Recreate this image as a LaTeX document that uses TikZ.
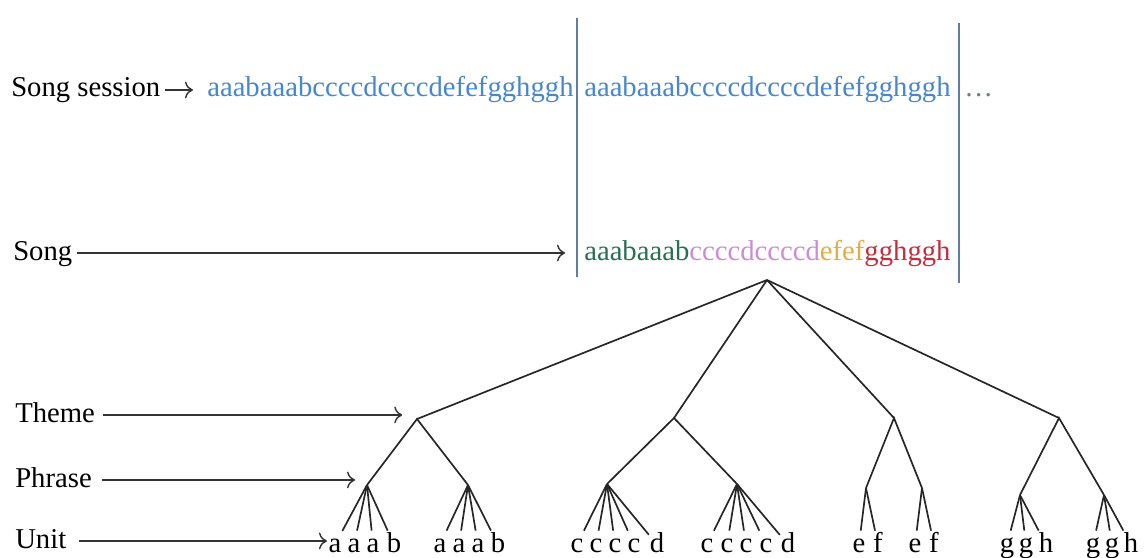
\documentclass[tikz,border=0pt]{standalone}
\usepackage{fontspec}
\setmainfont{Liberation Serif}
\usepackage{tikz}
\usetikzlibrary{arrows.meta}

\definecolor{sessblue}{RGB}{70,135,205}
\definecolor{abgreen}{RGB}{40,112,82}
\definecolor{cdpink}{RGB}{205,140,210}
\definecolor{eforange}{RGB}{228,172,70}
\definecolor{ghred}{RGB}{195,45,60}
\definecolor{barblue}{RGB}{95,125,170}
\definecolor{dotgray}{RGB}{110,120,140}

\begin{document}
\begin{tikzpicture}[x=0.025cm,y=-0.025cm,
	every node/.style={font=\fontsize{20.4}{24}\selectfont},
	lbl/.style={anchor=base west,inner sep=0pt,text height=14pt,text depth=4pt},
	leaf/.style={anchor=base,inner sep=0.5pt,text height=14.5pt,text depth=4pt},
	edge/.style={line width=1.2pt,black!85},
	lvl/.style={-{To[scale=1.5]},line width=1pt,black!80},
	sep/.style={line width=1.1pt,barblue}]
\useasboundingbox (0,0) rectangle (1146,558);

% session line
\node[lbl] (ses) at (11,97) {Song session};
\node[lbl,text=sessblue] (s1) at (207,97) {aaabaaabccccdccccdefefgghggh};
\node[lbl,text=sessblue] (s2) at (584,97) {aaabaaabccccdccccdefefgghggh};
\node[lbl,text=dotgray] (more) at (964,97) {…};
\draw[lvl,shorten <=3pt,shorten >=10pt] (ses.east) -- (ses.east -| s1.west);

% separators
\draw[sep] (577,18) -- (577,277);
\draw[sep] (959,23) -- (959,283);

% one song
\node[lbl] (song) at (13,260) {Song};
\node[lbl] (tune) at (584,260) {\textcolor{abgreen}{aaabaaab}\textcolor{cdpink}{ccccdccccd}\textcolor{eforange}{efef}\textcolor{ghred}{gghggh}};
\draw[lvl,shorten <=3pt,shorten >=13.5pt] (song.east) -- (song.east -| tune.west);

% tree: root, themes, phrases
\coordinate (root) at (767,280);
\coordinate (t1) at (417,419);
\coordinate (t2) at (674,418);
\coordinate (t3) at (894,418);
\coordinate (t4) at (1059,418);
\coordinate (p1) at (367,485);
\coordinate (p2) at (468,485);
\coordinate (p3) at (607,484);
\coordinate (p4) at (737,484);
\coordinate (p5) at (866,488);
\coordinate (p6) at (922,488);
\coordinate (p7) at (1020,495);
\coordinate (p8) at (1104,495);

\foreach \t in {t1,t2,t3,t4}
	\draw[edge] (root) -- (\t);
\draw[edge] (p1) -- (t1) -- (p2);
\draw[edge] (p3) -- (t2) -- (p4);
\draw[edge] (p5) -- (t3) -- (p6);
\draw[edge] (p7) -- (t4) -- (p8);

% units
\foreach \x/\c [count=\i] in {335/a,354/a,373/a,394/b}{
	\node[leaf] (u1-\i) at (\x,552) {\c};
	\draw[edge] (p1) -- (u1-\i);}
\foreach \x/\c [count=\i] in {440/a,459/a,478/a,498/b}{
	\node[leaf] (u2-\i) at (\x,552) {\c};
	\draw[edge] (p2) -- (u2-\i);}
\foreach \x/\c [count=\i] in {577/c,596/c,615/c,634/c,657/d}{
	\node[leaf] (u3-\i) at (\x,552) {\c};
	\draw[edge] (p3) -- (u3-\i);}
\foreach \x/\c [count=\i] in {707/c,727/c,746/c,766/c,788/d}{
	\node[leaf] (u4-\i) at (\x,552) {\c};
	\draw[edge] (p4) -- (u4-\i);}
\foreach \x/\c [count=\i] in {859/e,878/f}{
	\node[leaf] (u5-\i) at (\x,552) {\c};
	\draw[edge] (p5) -- (u5-\i);}
\foreach \x/\c [count=\i] in {915/e,934/f}{
	\node[leaf] (u6-\i) at (\x,552) {\c};
	\draw[edge] (p6) -- (u6-\i);}
\foreach \x/\c [count=\i] in {1007/g,1026/g,1046/h}{
	\node[leaf] (u7-\i) at (\x,552) {\c};
	\draw[edge] (p7) -- (u7-\i);}
\foreach \x/\c [count=\i] in {1093/g,1112/g,1131/h}{
	\node[leaf] (u8-\i) at (\x,552) {\c};
	\draw[edge] (p8) -- (u8-\i);}

% level labels
\node[lbl] (theme) at (15,422) {Theme};
\node[lbl] (phrase) at (15,487) {Phrase};
\node[lbl] (unit) at (15,548) {Unit};
\draw[lvl,shorten <=5.5pt,shorten >=10.5pt] (theme.east) -- (theme.east -| t1);
\draw[lvl,shorten <=7pt,shorten >=8.5pt] (phrase.east) -- (phrase.east -| p1);
\draw[lvl,shorten <=9pt,shorten >=0.5pt] (unit.east) -- (unit.east -| u1-1.west);

\end{tikzpicture}
\end{document}
